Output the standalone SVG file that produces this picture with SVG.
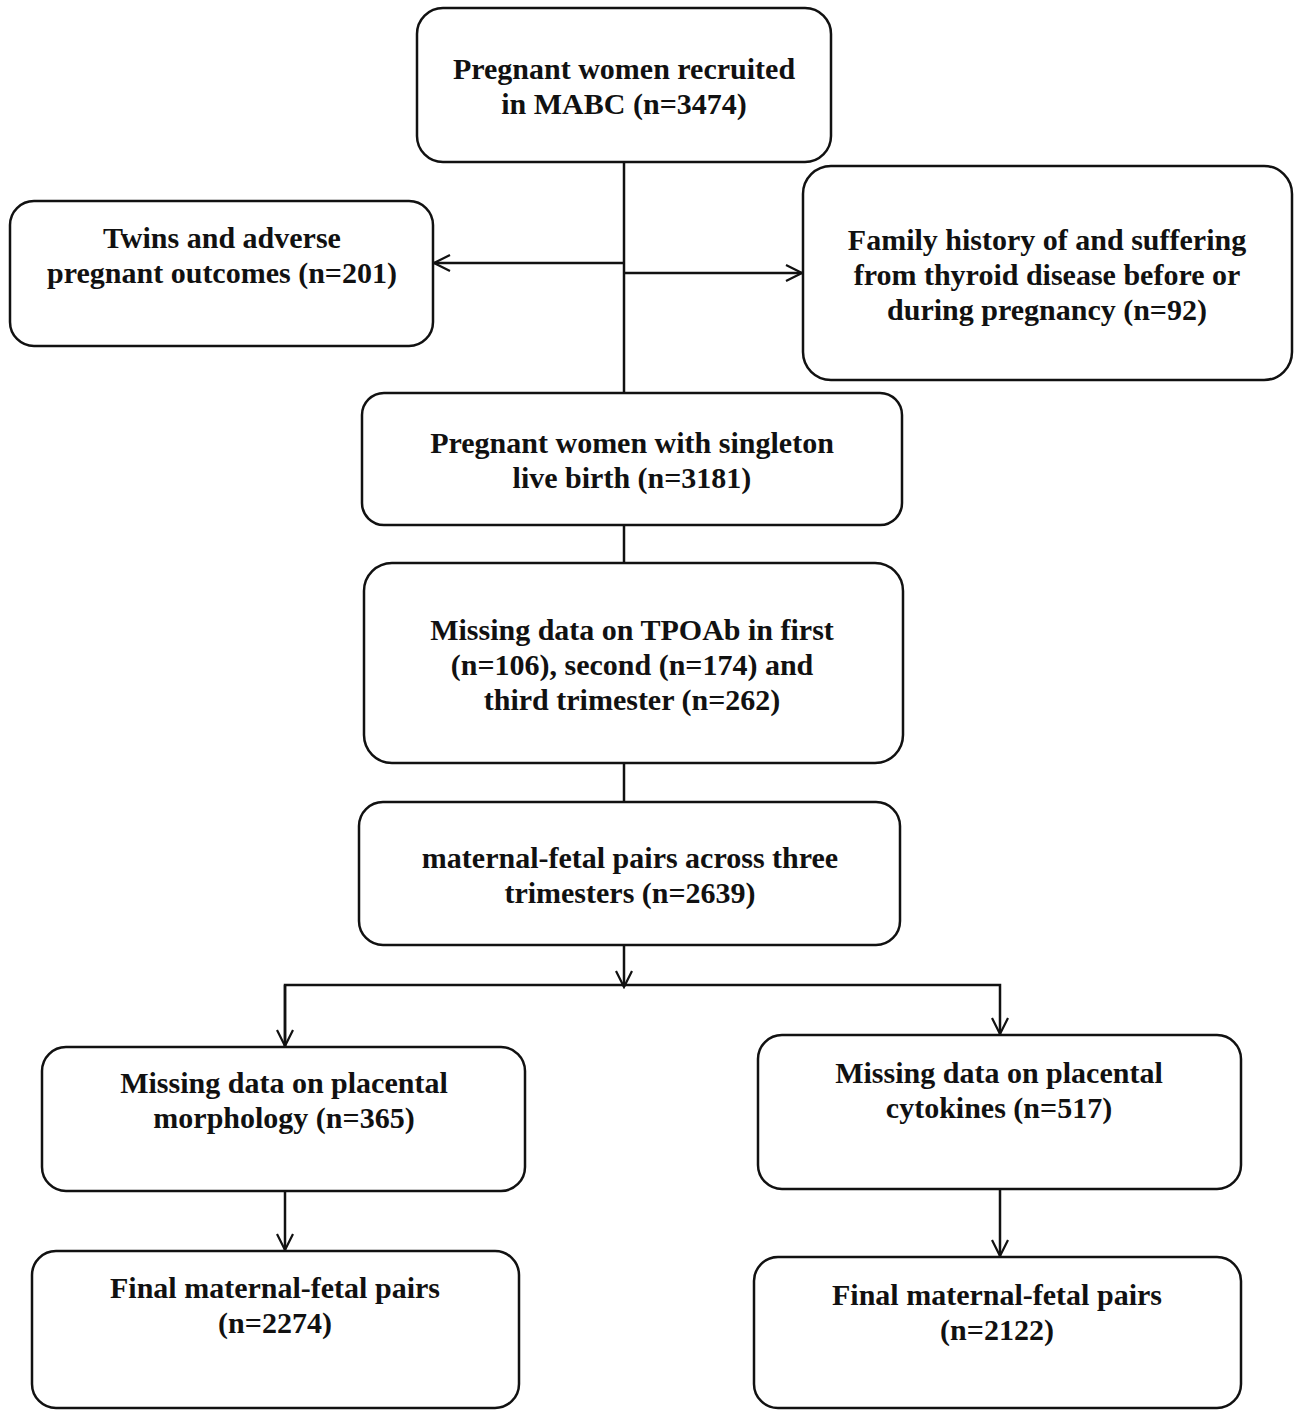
<svg xmlns="http://www.w3.org/2000/svg" width="1299" height="1415" viewBox="0 0 1299 1415">
<defs>
<style>
.box{fill:#fff;stroke:#111;stroke-width:2.5}
.t{font-family:"Liberation Serif","Times New Roman",serif;font-weight:bold;font-size:30px;fill:#111;text-anchor:middle}
.ln{fill:none;stroke:#111;stroke-width:2.5}
</style>
<marker id="arr" viewBox="0 0 20 20" refX="18" refY="10" markerWidth="20" markerHeight="20" markerUnits="userSpaceOnUse" orient="auto">
<path d="M2,2 L18,10 L2,18" fill="none" stroke="#111" stroke-width="2.2"/>
</marker>
</defs>
<rect width="1299" height="1415" fill="#fff"/>
<g id="connectors">
<path class="ln" d="M624,162 V393"/>
<path class="ln" d="M624,263 H434" marker-end="url(#arr)"/>
<path class="ln" d="M624,273 H802" marker-end="url(#arr)"/>
<path class="ln" d="M624,525 V563"/>
<path class="ln" d="M624,763 V802"/>
<path class="ln" d="M624,945 V987" marker-end="url(#arr)"/>
<path class="ln" d="M285,1046 V985 H1000 V1034" marker-end="url(#arr)"/>
<path class="ln" d="M285,985 V1046" marker-end="url(#arr)"/>
<path class="ln" d="M285,1191 V1250" marker-end="url(#arr)"/>
<path class="ln" d="M1000,1189 V1256" marker-end="url(#arr)"/>
</g>
<g id="n1"><rect class="box" x="417" y="8" width="414" height="154" rx="26"/>
<text class="t" x="624" y="79">Pregnant women recruited</text><text class="t" x="624" y="114">in MABC (n=3474)</text></g>
<g id="n2"><rect class="box" x="10" y="201" width="423" height="145" rx="24"/>
<text class="t" x="222" y="248">Twins and adverse</text><text class="t" x="222" y="283">pregnant outcomes (n=201)</text></g>
<g id="n3"><rect class="box" x="803" y="166" width="489" height="214" rx="28"/>
<text class="t" x="1047" y="250">Family history of and suffering</text><text class="t" x="1047" y="285">from thyroid disease before or</text><text class="t" x="1047" y="320">during pregnancy (n=92)</text></g>
<g id="n4"><rect class="box" x="362" y="393" width="540" height="132" rx="22"/>
<text class="t" x="632" y="453">Pregnant women with singleton</text><text class="t" x="632" y="488">live birth (n=3181)</text></g>
<g id="n5"><rect class="box" x="364" y="563" width="539" height="200" rx="28"/>
<text class="t" x="632" y="640">Missing data on TPOAb in first</text><text class="t" x="632" y="675">(n=106), second (n=174) and</text><text class="t" x="632" y="710">third trimester (n=262)</text></g>
<g id="n6"><rect class="box" x="359" y="802" width="541" height="143" rx="24"/>
<text class="t" x="630" y="868">maternal-fetal pairs across three</text><text class="t" x="630" y="903">trimesters (n=2639)</text></g>
<g id="n7"><rect class="box" x="42" y="1047" width="483" height="144" rx="24"/>
<text class="t" x="284" y="1093">Missing data on placental</text><text class="t" x="284" y="1128">morphology (n=365)</text></g>
<g id="n8"><rect class="box" x="758" y="1035" width="483" height="154" rx="24"/>
<text class="t" x="999" y="1083">Missing data on placental</text><text class="t" x="999" y="1118">cytokines (n=517)</text></g>
<g id="n9"><rect class="box" x="32" y="1251" width="487" height="157" rx="24"/>
<text class="t" x="275" y="1298">Final maternal-fetal pairs</text><text class="t" x="275" y="1333">(n=2274)</text></g>
<g id="n10"><rect class="box" x="754" y="1257" width="487" height="151" rx="24"/>
<text class="t" x="997" y="1305">Final maternal-fetal pairs</text><text class="t" x="997" y="1340">(n=2122)</text></g>
</svg>
